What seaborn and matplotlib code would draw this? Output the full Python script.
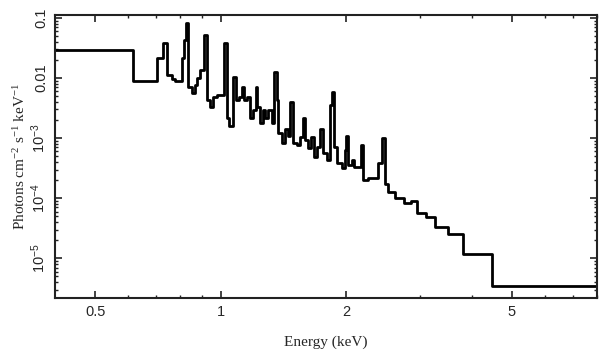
import matplotlib
matplotlib.use("Agg")
import matplotlib.pyplot as plt
import seaborn as sns
import numpy as np
import pandas as pd
from matplotlib.ticker import FixedLocator, FixedFormatter, NullFormatter

# Bin lower edges (keV) and model flux (photons cm^-2 s^-1 keV^-1)
bin_edges = [0.400, 0.617, 0.701, 0.725, 0.741, 0.762, 0.775, 0.805, 0.814, 0.823,
             0.833, 0.851, 0.866, 0.875, 0.890, 0.910, 0.925, 0.941, 0.957, 0.978,
             1.017, 1.034, 1.045, 1.069, 1.087, 1.105, 1.124, 1.136, 1.155, 1.175,
             1.194, 1.214, 1.221, 1.242, 1.262, 1.276, 1.298, 1.327, 1.342, 1.364,
             1.372, 1.403, 1.426, 1.450, 1.466, 1.491, 1.524, 1.550, 1.576, 1.594,
             1.621, 1.648, 1.676, 1.704, 1.733, 1.762, 1.801, 1.831, 1.852, 1.872,
             1.904, 1.957, 1.990, 2.001, 2.023, 2.069, 2.092, 2.175, 2.199, 2.261,
             2.390, 2.443, 2.484, 2.526, 2.626, 2.746, 2.854, 2.951, 3.101, 3.261,
             3.504, 3.808, 4.473]
bin_end = 8.0
flux = [0.0293, 0.0089, 0.0215, 0.0383, 0.0112, 0.0096, 0.0089, 0.0215, 0.043, 0.0825,
        0.0071, 0.0056, 0.0076, 0.0100, 0.0136, 0.0521, 0.0043, 0.0033, 0.0048, 0.0052,
        0.0383, 0.0022, 0.0016, 0.0104, 0.0043, 0.0048, 0.0071, 0.0043, 0.0048, 0.0022,
        0.0029, 0.0071, 0.0033, 0.0018, 0.0029, 0.0022, 0.0029, 0.0018, 0.0126, 0.0043,
        0.0012, 0.00083, 0.0014, 0.0011, 0.0040, 0.00083, 0.00077, 0.00103, 0.0022, 0.00093,
        0.00068, 0.00103, 0.00048, 0.00071, 0.0014, 0.00056, 0.00043, 0.0036, 0.0058, 0.00071,
        0.00038, 0.00032, 0.00063, 0.0011, 0.00036, 0.00043, 0.00033, 0.00077, 0.00020, 0.00022,
        0.00038, 0.0010, 0.00017, 0.000126, 0.00010, 0.000083, 0.000089, 0.000056, 0.000048, 0.000033,
        0.000025, 0.0000117, 0.0000034]

x_ticks = [0.5, 1, 2, 5]
x_tick_labels = ["0.5", "1", "2", "5"]
y_ticks = [1e-5, 1e-4, 1e-3, 1e-2, 1e-1]
y_tick_labels = ["10$^{-5}$", "10$^{-4}$", "10$^{-3}$", "0.01", "0.1"]

sns.set_style("ticks")
plt.rcParams["font.family"] = ["Liberation Sans", "DejaVu Sans"]
plt.rcParams["font.sans-serif"] = ["Liberation Sans", "DejaVu Sans"]
plt.rcParams["mathtext.default"] = "regular"

df = pd.DataFrame({"E": bin_edges + [bin_end], "F": flux + [flux[-1]]})

fig = plt.figure(figsize=(6.09, 3.60), dpi=100)
ax = fig.add_axes([55 / 609, 1 - 298 / 360, (597 - 55) / 609, (298 - 15) / 360])

sns.lineplot(data=df, x="E", y="F", ax=ax, drawstyle="steps-post", estimator=None,
             sort=False, color="black", linewidth=2.0)

ax.set_xscale("log")
ax.set_yscale("log")
ax.set_xlim(0.4, 8.0)
ax.set_ylim(2.18e-6, 0.112)

ax.xaxis.set_major_locator(FixedLocator(x_ticks))
ax.xaxis.set_major_formatter(FixedFormatter(x_tick_labels))
minor_x = [0.6, 0.7, 0.8, 0.9, 3, 4, 6, 7, 8]
ax.xaxis.set_minor_locator(FixedLocator(minor_x))
ax.xaxis.set_minor_formatter(NullFormatter())

ax.yaxis.set_major_locator(FixedLocator(y_ticks))
ax.yaxis.set_major_formatter(FixedFormatter(y_tick_labels))
minor_y = [m * 10.0 ** e for e in range(-6, 0) for m in range(2, 10)]
ax.yaxis.set_minor_locator(FixedLocator(minor_y))
ax.yaxis.set_minor_formatter(NullFormatter())

for s in ax.spines.values():
    s.set_visible(True)
    s.set_linewidth(1.5)
    s.set_color("#222222")

ax.tick_params(which="both", direction="in", top=True, right=True, color="#222222")
ax.tick_params(which="major", length=5, width=1.2, labelsize=10.5, pad=5)
ax.tick_params(which="minor", length=2.5, width=1.0)
for lbl in ax.get_xticklabels() + ax.get_yticklabels():
    lbl.set_fontfamily(["Liberation Sans", "DejaVu Sans"])
for lbl in ax.get_yticklabels():
    lbl.set_rotation(90)
    lbl.set_va("center")

serif = ["Liberation Serif", "DejaVu Serif"]
ax.set_xlabel("Energy (keV)", family=serif, fontsize=11, labelpad=12)
ax.set_ylabel("Photons cm$^{-2}$ s$^{-1}$ keV$^{-1}$", family=serif, fontsize=11, labelpad=1)

fig.savefig("out.png", dpi=100)
